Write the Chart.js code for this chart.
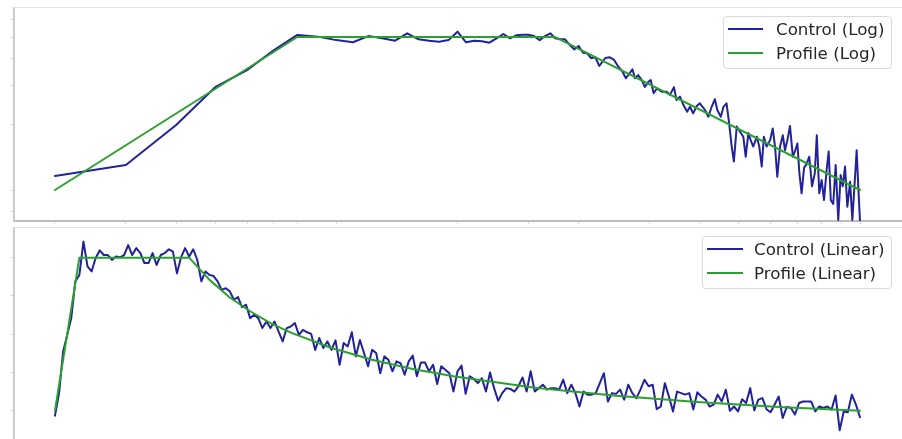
<!DOCTYPE html>
<html>
<head>
<meta charset="utf-8">
<script src="https://cdn.jsdelivr.net/npm/chart.js@4.4.1/dist/chart.umd.min.js"></script>
<style>
  html, body { margin: 0; padding: 0; background: #fff; overflow: hidden; width: 902px; height: 439px; }
  canvas { position: absolute; left: 0; }
  #logCanvas { top: 0; }
  #linCanvas { top: 220px; }
  .legend {
    position: absolute; box-sizing: border-box;
    border: 1px solid #d9d9d9; border-radius: 4px;
    background: rgba(255, 255, 255, 0.85);
    font-family: 'DejaVu Sans', sans-serif; font-size: 16.7px; color: #262626;
  }
  .legend .row { position: absolute; left: 0; right: 0; height: 24px; line-height: 24px; white-space: nowrap; }
  .legend .swatch { position: absolute; top: 11px; }
  .legend .label { position: absolute; top: 0; }
</style>
</head>
<body>
<canvas id="logCanvas" width="902" height="226"></canvas>
<canvas id="linCanvas" width="902" height="230"></canvas>
<div id="logLegend" class="legend" style="left:723px;top:16px;width:169px;height:53px"></div>
<div id="linLegend" class="legend" style="left:702px;top:236px;width:190px;height:53px"></div>
<script>
// ---- Log panel: measured control vs. target profile (log-log) ----
const logTimes = [
  1, 1.5, 2, 2.5, 3, 3.5, 4, 4.5, 5, 5.5, 6, 6.5, 7, 7.5, 8, 8.5, 9, 9.5, 10, 10.5,
  11, 11.5, 12, 12.5, 13, 13.5, 14, 14.5, 15, 15.5, 16, 16.5, 17, 17.5, 18, 18.5, 19, 19.5, 20, 20.5,
  21, 21.5, 22, 22.5,
  23.3, 23.9, 24.5, 25.1, 25.7, 26.2, 26.7, 27.2, 27.6, 28.1, 28.7, 29.2, 29.8, 30.2, 30.7, 31.3,
  32.2, 33.1, 33.7, 34.5, 35.0, 35.7, 36.4, 37.2, 37.8, 38.5, 39.3, 40.0, 41.2, 42.0, 42.8, 43.6,
  44.2, 45.1, 45.8, 46.6, 47.3, 48.0, 48.6, 49.4, 50.3, 51.3, 52.0, 52.8, 53.5, 54.3, 55.4, 56.2,
  57.0, 57.7, 58.6, 59.8, 60.7, 61.5, 62.3, 63.3, 64.3, 65.1, 66.0, 67.0, 68.1, 68.9, 69.9, 70.7,
  71.6, 72.6, 73.7, 74.8, 76.0, 77.2, 78.1, 79.2, 80.3, 81.4, 82.6, 83.6, 84.6, 85.8, 87.0, 88.3,
  89.5, 90.6, 91.8, 93.0, 94.5, 95.7, 97.2, 98.1, 99.2, 100
];
const logControl = [
  1.16, 1.30, 1.98, 2.95, 3.53, 4.36, 5.11, 5.02, 4.84, 4.73, 5.05, 4.93, 4.81, 5.20, 4.88, 4.81,
  4.76, 4.84, 5.29, 4.73, 4.81, 4.78, 4.71, 4.93, 5.16, 4.93, 5.09, 5.12, 5.12, 5.05, 4.84, 5.05,
  5.20, 4.93, 4.88, 4.88, 4.60, 4.39, 4.55, 4.24, 4.21, 4.00, 4.04, 3.69,
  4.01, 4.04, 3.93, 3.66, 3.47, 3.24, 3.39, 3.56, 3.24, 3.35, 3.18, 2.96, 3.12, 3.18, 2.77, 2.91,
  2.81, 2.81, 2.72, 2.95, 2.58, 2.67, 2.45, 2.28, 2.40, 2.24, 2.42, 2.49, 2.32, 2.16, 2.40, 2.60,
  2.32, 2.16, 2.40, 2.49, 2.02, 1.58, 1.35, 1.95, 1.85, 1.75, 1.42, 1.82, 1.69, 1.58, 1.75, 1.58,
  1.28, 1.75, 1.58, 1.69, 1.91, 1.58, 1.15, 1.58, 1.78, 1.52, 1.69, 1.96, 1.42, 1.50, 1.63, 1.19,
  0.966, 1.26, 1.32, 1.42, 1.04, 1.19, 1.78, 0.966, 1.11, 0.90, 1.23, 1.50, 0.90, 0.863, 1.30, 0.73,
  1.17, 1.04, 1.28, 0.839, 1.09, 0.73, 1.15, 1.52, 0.966, 0.716
];
const logProfileTimes = [1, 4, 17.5, 100];
const logProfile = [1, 5, 5, 1];

// ---- Linear panel: same kind of run on linear axes ----
const linTimes = [
  1, 1.5, 2, 2.5, 3, 3.5, 4, 4.5, 5, 5.5, 6, 6.5, 7, 7.5, 8, 8.5, 9, 9.5, 10, 10.5,
  11, 11.5, 12, 12.5, 13, 13.5, 14, 14.5, 15, 15.5, 16, 16.5, 17, 17.5, 18, 18.5, 19, 19.5, 20, 20.5,
  21, 21.5, 22, 22.5, 23, 23.5, 24, 24.5, 25, 25.5, 26, 26.5, 27, 27.5, 28, 28.5, 29, 29.5, 30, 30.5,
  31, 31.5, 32, 32.5, 33, 33.5, 34, 34.5, 35, 35.5, 36, 36.5, 37, 37.5, 38, 38.5, 39, 39.5, 40, 40.5,
  41, 41.5, 42, 42.5, 43, 43.5, 44, 44.5, 45, 45.5, 46, 46.5, 47, 47.5, 48, 48.5, 49, 49.5, 50, 50.5,
  51, 51.5, 52, 52.5, 53, 53.5, 54, 54.5, 55, 55.5, 56, 56.5, 57, 57.5, 58, 58.5, 59, 59.5, 60, 60.5,
  61, 61.5, 62, 62.5, 63, 63.5, 64, 64.5, 65, 65.5, 66, 66.5, 67, 67.5, 68, 68.5, 69, 69.5, 70, 70.5,
  71, 71.5, 72, 72.5, 73, 73.5, 74, 74.5, 75, 75.5, 76, 76.5, 77, 77.5, 78, 78.5, 79, 79.5, 80, 80.5,
  81, 81.5, 82, 82.5, 83, 83.5, 84, 84.5, 85, 85.5, 86, 86.5, 87, 87.5, 88, 88.5, 89, 89.5, 90, 90.5,
  91, 91.5, 92, 92.5, 93, 93.5, 94, 94.5, 95, 95.5, 96, 96.5, 97, 97.5, 98, 98.5, 99, 99.5, 100
];
const linControl = [
  0.87, 1.46, 2.55, 2.98, 3.42, 4.38, 4.55, 5.42, 4.77, 4.64,
  4.99, 5.19, 5.07, 5.07, 4.94, 5.03, 5.01, 5.07, 5.33, 5.07,
  5.25, 5.12, 4.86, 4.86, 5.12, 4.81, 5.07, 5.12, 5.22, 5.16,
  4.59, 5.01, 5.25, 5.03, 5.22, 4.94, 4.38, 4.64, 4.55, 4.52,
  4.38, 4.16, 4.20, 4.12, 3.90, 3.97, 3.71, 3.77, 3.42, 3.51,
  3.42, 3.16, 3.33, 3.16, 3.33, 3.07, 2.81, 3.16, 3.20, 3.29,
  2.98, 3.11, 3.05, 3.01, 2.59, 2.90, 2.64, 2.81, 2.59, 2.84,
  2.20, 2.77, 2.68, 3.05, 2.42, 2.85, 2.51, 2.16, 2.59, 2.51,
  1.98, 2.42, 2.33, 2.03, 2.29, 2.24, 1.94, 2.29, 2.44, 1.90,
  2.26, 2.26, 2.03, 2.20, 1.70, 2.16, 2.07, 1.98, 1.50, 2.03,
  2.18, 1.44, 1.90, 1.83, 1.72, 1.85, 1.50, 2.00, 1.59, 1.26,
  1.46, 1.59, 1.57, 1.50, 1.64, 1.87, 1.50, 2.03, 1.50, 1.59,
  1.68, 1.55, 1.59, 1.59, 1.55, 1.81, 1.46, 1.68, 1.46, 1.11,
  1.50, 1.42, 1.42, 1.46, 1.72, 1.98, 1.24, 1.46, 1.44, 1.55,
  1.29, 1.68, 1.46, 1.33, 1.55, 1.81, 1.64, 1.68, 1.04, 1.11,
  1.72, 1.37, 0.98, 1.50, 1.46, 1.42, 1.46, 1.03, 1.48, 1.37,
  1.29, 1.11, 1.16, 1.42, 1.24, 1.55, 1.00, 1.11, 0.98, 1.30,
  1.20, 1.59, 1.01, 1.29, 1.33, 1.04, 0.96, 1.16, 1.37, 0.81,
  1.10, 1.07, 0.90, 1.20, 1.24, 1.24, 1.24, 0.98, 1.11, 1.07,
  1.11, 1.03, 1.40, 0.49, 0.98, 0.96, 1.42, 1.16, 0.83
];
const linProfileTimes = [1, 4, 17.5, 20, 22.5, 25, 27.5, 30, 35, 40, 45, 50, 60, 70, 80, 90, 100];
const linProfile = [1, 5, 5, 4.42, 3.96, 3.60, 3.29, 3.04, 2.64, 2.33, 2.09, 1.90, 1.60, 1.39, 1.23, 1.10, 1.0];

// Tick positions (labels are not shown, only the tick marks)
const logXTicks = [1, 1.5, 2, 2.5, 3, 3.5, 4, 5, 10, 15, 20, 30, 40, 50, 60, 70, 80, 90, 100];
const logYTicks = [0.8, 1, 2, 3, 4, 5, 6];
const linXTicks = [0, 20, 40, 60, 80, 100];
const linYTicks = [1, 2, 3, 4, 5];

const CONTROL_COLOR = '#22229a';
const PROFILE_COLOR = '#2ca02c';

const pairs = (xs, ys) => xs.map((x, i) => ({ x, y: ys[i] }));

// Thin frame line along the top of each plot area
const frameTop = {
  id: 'frameTop',
  afterDraw(chart, args, opts) {
    const { ctx, chartArea } = chart;
    ctx.save();
    ctx.strokeStyle = opts.color || '#e3e3e3';
    ctx.lineWidth = 1;
    ctx.beginPath();
    ctx.moveTo(chartArea.left, chartArea.top - 0.5);
    ctx.lineTo(chartArea.right, chartArea.top - 0.5);
    ctx.stroke();
    ctx.restore();
  }
};

function axis(type, min, max, ticks, opts) {
  return Object.assign({
    type, min, max, bounds: 'data',
    ticks: { display: false },
    grid: { drawOnChartArea: false, drawTicks: true, tickLength: 4, color: '#d8d8d8', tickColor: '#d8d8d8' },
    afterBuildTicks(scale) { scale.ticks = ticks.map(v => ({ value: v })); }
  }, opts);
}

function makeChart(canvasId, controlLabel, profileLabel, ctrlX, ctrlY, profX, profY, scales) {
  return new Chart(document.getElementById(canvasId), {
    type: 'line',
    data: {
      datasets: [
        { label: controlLabel, data: pairs(ctrlX, ctrlY), borderColor: CONTROL_COLOR, backgroundColor: CONTROL_COLOR, borderWidth: 2, order: 1 },
        { label: profileLabel, data: pairs(profX, profY), borderColor: PROFILE_COLOR, backgroundColor: PROFILE_COLOR, borderWidth: 2, order: 0 }
      ]
    },
    options: {
      responsive: false,
      animation: false,
      events: [],
      layout: { padding: { top: 8, left: 0, right: 0, bottom: 0 } },
      elements: {
        point: { radius: 0 },
        line: { tension: 0, borderJoinStyle: 'round', borderCapStyle: 'round' }
      },
      plugins: { legend: { display: false }, tooltip: { enabled: false }, frameTop: { color: '#e2e2e2' } },
      scales
    },
    plugins: [frameTop]
  });
}

function buildLegend(chart, elId, swatchLeft, swatchWidth, swatchHeight, textLeft) {
  const box = document.getElementById(elId);
  chart.data.datasets.forEach((ds, i) => {
    const row = document.createElement('div');
    row.className = 'row';
    row.style.top = (i * 24) + 'px';
    const sw = document.createElement('span');
    sw.className = 'swatch';
    sw.style.left = swatchLeft + 'px';
    sw.style.width = swatchWidth + 'px';
    sw.style.height = swatchHeight + 'px';
    sw.style.top = (12 - swatchHeight / 2) + 'px';
    sw.style.background = ds.borderColor;
    const label = document.createElement('span');
    label.className = 'label';
    label.style.left = textLeft + 'px';
    label.textContent = ds.label;
    row.appendChild(sw);
    row.appendChild(label);
    box.appendChild(row);
  });
}

const logChart = makeChart('logCanvas', 'Control (Log)', 'Profile (Log)',
  logTimes, logControl, logProfileTimes, logProfile, {
    x: axis('logarithmic', 0.791, 127.15, logXTicks, {
      border: { color: '#bdbdbd', width: 2 },
      grid: { drawOnChartArea: false, drawTicks: true, tickLength: 3, color: '#d8d8d8', tickColor: '#d8d8d8' },
      afterFit(s) { s.height = 5; }
    }),
    y: axis('logarithmic', 0.7218, 6.785, logYTicks, {
      border: { color: '#cacaca', width: 2 },
      afterFit(s) { s.width = 14; }
    })
  });

const linChart = makeChart('linCanvas', 'Control (Linear)', 'Profile (Linear)',
  linTimes, linControl, linProfileTimes, linProfile, {
    x: axis('linear', -4.042, 105.165, linXTicks, {
      border: { color: '#bdbdbd', width: 2 },
      afterFit(s) { s.height = 8; }
    }),
    y: axis('linear', 0.182, 5.776, linYTicks, {
      border: { color: '#cacaca', width: 2 },
      afterFit(s) { s.width = 14; }
    })
  });

buildLegend(logChart, 'logLegend', 4, 35, 2, 52);
buildLegend(linChart, 'linLegend', 4, 36, 1.5, 51);
</script>
</body>
</html>
